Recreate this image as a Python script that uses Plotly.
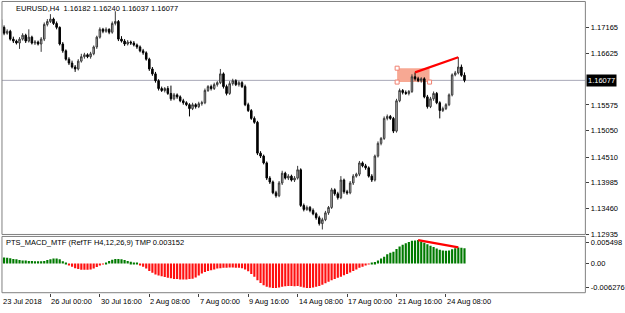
import plotly.graph_objects as go

# ---------------- data ----------------
title_text = "EURUSD,H4  1.16182 1.16240 1.16037 1.16077"
ind_text = "PTS_MACD_MTF (RefTF H4,12,26,9) TMP 0.003152"

opens = [
    1.1732, 1.1716, 1.1704, 1.1708, 1.1692, 1.1688, 1.1684, 1.1692, 1.1700, 1.1688,
    1.1696, 1.1684, 1.1686, 1.1682, 1.1692, 1.1722, 1.1728, 1.1733, 1.1724, 1.1716,
    1.1682, 1.1668, 1.1651, 1.1643, 1.1635, 1.1631, 1.1647, 1.1656, 1.1660, 1.1656,
    1.1662, 1.1676, 1.1696, 1.1712, 1.1708, 1.1712, 1.1706, 1.1724, 1.1728, 1.1692,
    1.1688, 1.1682, 1.1686, 1.1684, 1.1680, 1.1676, 1.1668, 1.1664, 1.1651, 1.1631,
    1.1621, 1.1607, 1.1591, 1.1587, 1.1591, 1.1581, 1.1570, 1.1578, 1.1574, 1.1566,
    1.1562, 1.1558, 1.1550, 1.1558, 1.1554, 1.1560, 1.1562, 1.1587, 1.1595, 1.1591,
    1.1599, 1.1603, 1.1621, 1.1595, 1.1581, 1.1601, 1.1607, 1.1599, 1.1603, 1.1595,
    1.1558, 1.1546, 1.1530, 1.1522, 1.1459, 1.1453, 1.1439, 1.1408, 1.1400, 1.1378,
    1.1372, 1.1398, 1.1418, 1.1408, 1.1412, 1.1404, 1.1408, 1.1425, 1.1352, 1.1344,
    1.1348, 1.1342, 1.1335, 1.1327, 1.1315, 1.1323, 1.1337, 1.1348, 1.1384, 1.1376,
    1.1368, 1.1404, 1.1380, 1.1378, 1.1398, 1.1412, 1.1416, 1.1439, 1.1433, 1.1429,
    1.1412, 1.1404, 1.1453, 1.1479, 1.1489, 1.1530, 1.1534, 1.1530, 1.1504, 1.1566,
    1.1587, 1.1583, 1.1581, 1.1585, 1.1615, 1.1611, 1.1607, 1.1611, 1.1574, 1.1554,
    1.1570, 1.1581, 1.1562, 1.1546, 1.1550, 1.1558, 1.1578, 1.1619, 1.1623, 1.1635,
    1.16182,
]
highs = [
    1.1743, 1.1720, 1.1712, 1.1711, 1.1697, 1.1691, 1.1696, 1.1704, 1.1703, 1.1712,
    1.1699, 1.1690, 1.1689, 1.1696, 1.1726, 1.1733, 1.1743, 1.1736, 1.1728, 1.1718,
    1.1686, 1.1671, 1.1655, 1.1648, 1.1639, 1.1651, 1.1662, 1.1664, 1.1663, 1.1666,
    1.1679, 1.1699, 1.1716, 1.1715, 1.1716, 1.1714, 1.1728, 1.1749, 1.1731, 1.1698,
    1.1692, 1.1690, 1.1689, 1.1688, 1.1683, 1.1679, 1.1672, 1.1667, 1.1654, 1.1635,
    1.1625, 1.1610, 1.1595, 1.1594, 1.1596, 1.1597, 1.1582, 1.1581, 1.1577, 1.1570,
    1.1565, 1.1561, 1.1562, 1.1561, 1.1564, 1.1566, 1.1591, 1.1598, 1.1599, 1.1603,
    1.1606, 1.1631, 1.1624, 1.1599, 1.1606, 1.1611, 1.1610, 1.1607, 1.1606, 1.1599,
    1.1562, 1.1549, 1.1534, 1.1525, 1.1463, 1.1456, 1.1442, 1.1412, 1.1403, 1.1382,
    1.1402, 1.1423, 1.1421, 1.1416, 1.1415, 1.1412, 1.1433, 1.1428, 1.1356, 1.1352,
    1.1351, 1.1346, 1.1338, 1.1331, 1.1327, 1.1341, 1.1351, 1.1388, 1.1387, 1.1380,
    1.1412, 1.1407, 1.1384, 1.1402, 1.1416, 1.1419, 1.1443, 1.1442, 1.1437, 1.1432,
    1.1416, 1.1456, 1.1483, 1.1492, 1.1534, 1.1538, 1.1537, 1.1533, 1.1570, 1.1591,
    1.1590, 1.1587, 1.1588, 1.1620, 1.1624, 1.1615, 1.1614, 1.1614, 1.1578, 1.1574,
    1.1585, 1.1584, 1.1565, 1.1554, 1.1561, 1.1581, 1.1622, 1.1627, 1.1655, 1.1640,
    1.16240,
]
lows = [
    1.1709, 1.1700, 1.1701, 1.1689, 1.1684, 1.1681, 1.1672, 1.1689, 1.1684, 1.1685,
    1.1681, 1.1680, 1.1679, 1.1666, 1.1688, 1.1718, 1.1725, 1.1721, 1.1712, 1.1679,
    1.1664, 1.1648, 1.1639, 1.1632, 1.1625, 1.1628, 1.1644, 1.1652, 1.1653, 1.1652,
    1.1659, 1.1672, 1.1693, 1.1704, 1.1705, 1.1702, 1.1703, 1.1720, 1.1688, 1.1685,
    1.1678, 1.1679, 1.1680, 1.1677, 1.1672, 1.1665, 1.1660, 1.1648, 1.1627, 1.1617,
    1.1603, 1.1587, 1.1584, 1.1583, 1.1578, 1.1566, 1.1567, 1.1570, 1.1563, 1.1558,
    1.1555, 1.1534, 1.1547, 1.1550, 1.1551, 1.1556, 1.1559, 1.1584, 1.1587, 1.1588,
    1.1595, 1.1600, 1.1591, 1.1577, 1.1578, 1.1597, 1.1596, 1.1595, 1.1592, 1.1555,
    1.1543, 1.1527, 1.1519, 1.1455, 1.1449, 1.1436, 1.1404, 1.1396, 1.1375, 1.1368,
    1.1369, 1.1394, 1.1405, 1.1404, 1.1401, 1.1400, 1.1405, 1.1349, 1.1340, 1.1341,
    1.1338, 1.1332, 1.1323, 1.1311, 1.1303, 1.1320, 1.1333, 1.1345, 1.1372, 1.1364,
    1.1365, 1.1376, 1.1374, 1.1375, 1.1394, 1.1409, 1.1412, 1.1430, 1.1425, 1.1409,
    1.1400, 1.1401, 1.1450, 1.1475, 1.1486, 1.1526, 1.1527, 1.1500, 1.1501, 1.1563,
    1.1579, 1.1578, 1.1577, 1.1582, 1.1607, 1.1604, 1.1603, 1.1571, 1.1550, 1.1551,
    1.1566, 1.1559, 1.1530, 1.1543, 1.1547, 1.1555, 1.1575, 1.1616, 1.1620, 1.1615,
    1.16037,
]
closes = [
    1.1716, 1.1704, 1.1708, 1.1692, 1.1688, 1.1684, 1.1692, 1.1700, 1.1688, 1.1696,
    1.1684, 1.1686, 1.1682, 1.1692, 1.1722, 1.1728, 1.1733, 1.1724, 1.1716, 1.1682,
    1.1668, 1.1651, 1.1643, 1.1635, 1.1631, 1.1647, 1.1656, 1.1660, 1.1656, 1.1662,
    1.1676, 1.1696, 1.1712, 1.1708, 1.1712, 1.1706, 1.1724, 1.1728, 1.1692, 1.1688,
    1.1682, 1.1686, 1.1684, 1.1680, 1.1676, 1.1668, 1.1664, 1.1651, 1.1631, 1.1621,
    1.1607, 1.1591, 1.1587, 1.1591, 1.1581, 1.1570, 1.1578, 1.1574, 1.1566, 1.1562,
    1.1558, 1.1550, 1.1558, 1.1554, 1.1560, 1.1562, 1.1587, 1.1595, 1.1591, 1.1599,
    1.1603, 1.1621, 1.1595, 1.1581, 1.1601, 1.1607, 1.1599, 1.1603, 1.1595, 1.1558,
    1.1546, 1.1530, 1.1522, 1.1459, 1.1453, 1.1439, 1.1408, 1.1400, 1.1378, 1.1372,
    1.1398, 1.1418, 1.1408, 1.1412, 1.1404, 1.1408, 1.1425, 1.1352, 1.1344, 1.1348,
    1.1342, 1.1335, 1.1327, 1.1315, 1.1323, 1.1337, 1.1348, 1.1384, 1.1376, 1.1368,
    1.1404, 1.1380, 1.1378, 1.1398, 1.1412, 1.1416, 1.1439, 1.1433, 1.1429, 1.1412,
    1.1404, 1.1453, 1.1479, 1.1489, 1.1530, 1.1534, 1.1530, 1.1504, 1.1566, 1.1587,
    1.1583, 1.1581, 1.1585, 1.1615, 1.1611, 1.1607, 1.1611, 1.1574, 1.1554, 1.1570,
    1.1581, 1.1562, 1.1546, 1.1550, 1.1558, 1.1578, 1.1619, 1.1623, 1.1635, 1.1618,
    1.16077,
]
macd = [
    0.0016, 0.0016, 0.0015, 0.0014, 0.0012, 0.0011, 0.0009, 0.0008, 0.0008, 0.0007,
    0.0007, 0.0006, 0.0006, 0.0006, 0.0007, 0.0009, 0.0011, 0.0013, 0.0013, 0.0011,
    0.0006, 0.0001, -0.0004, -0.0008, -0.0012, -0.0014, -0.0016, -0.0016, -0.0016, -0.0015,
    -0.0013, -0.0009, -0.0005, -0.0001, 0.0003, 0.0007, 0.0010, 0.0012, 0.0012, 0.0011,
    0.0009, 0.0007, 0.0005, 0.0003, 0.0001, -0.0003, -0.0008, -0.0013, -0.0019, -0.0024,
    -0.0028, -0.0031, -0.0033, -0.0035, -0.0037, -0.0038, -0.0040, -0.0040, -0.0041, -0.0041,
    -0.0041, -0.0040, -0.0039, -0.0036, -0.0031, -0.0026, -0.0022, -0.0019, -0.0017, -0.0015,
    -0.0013, -0.0012, -0.0011, -0.0011, -0.0010, -0.0010, -0.0011, -0.0011, -0.0012, -0.0015,
    -0.0020, -0.0027, -0.0034, -0.0043, -0.0050, -0.0056, -0.0060, -0.0062, -0.0063, -0.0063,
    -0.0062, -0.0060, -0.0059, -0.0058, -0.0058, -0.0059, -0.0058, -0.0060, -0.0062, -0.0063,
    -0.0063, -0.0062, -0.0060, -0.0058, -0.0055, -0.0051, -0.0047, -0.0043, -0.0040, -0.0037,
    -0.0034, -0.0030, -0.0027, -0.0023, -0.0019, -0.0015, -0.0011, -0.0008, -0.0005, -0.0002,
    0.0002, 0.0004, 0.0008, 0.0013, 0.0018, 0.0024, 0.0028, 0.0031, 0.0038, 0.0044,
    0.0049, 0.0053, 0.0056, 0.0059, 0.0060, 0.0061, 0.0057, 0.0054, 0.0050, 0.0046,
    0.0043, 0.0039, 0.0036, 0.0034, 0.0033, 0.0034, 0.0037, 0.0040, 0.0042, 0.0041,
    0.0040,
]
bars = list(range(len(closes)))

price_ticks = [1.17165, 1.16625, 1.15575, 1.15050, 1.14510, 1.13985, 1.13460, 1.12935]
price_tick_text = ["1.17165", "1.16625", "1.15575", "1.15050", "1.14510", "1.13985", "1.13460", "1.12935"]
current_price = 1.16077
macd_ticks = [0.005498, 0.0, -0.006276]
macd_tick_text = ["0.005498", "0.00", "-0.006276"]
time_label_bars = [0, 16, 32, 48, 64, 80, 96, 112, 128, 144]
time_labels = ["23 Jul 2018", "26 Jul 00:00", "30 Jul 16:00", "2 Aug 08:00", "7 Aug 00:00",
               "9 Aug 16:00", "14 Aug 08:00", "17 Aug 00:00", "21 Aug 16:00", "24 Aug 08:00"]

# drawn objects (bar index / price anchored)
trend_bars = [134, 148]
macd_line_bars = [135, 148]
zone_bars = [128.2, 138.7]
zone_prices = [1.16042, 1.16326]

# ---------------- layout helpers ----------------
W, H = 625, 313
def fx(p):
    return p / W
def fy(p):
    return 1 - p / H

FONT = "Liberation Sans"
FS = 7.5
X_DOM = [fx(2), fx(592)]
X_RANGE = [0.32, 189.12]

fig = go.Figure()

# zone rectangle
fig.add_shape(type="rect", xref="x", yref="y", x0=zone_bars[0], x1=zone_bars[1],
              y0=zone_prices[0], y1=zone_prices[1], fillcolor="#F7A893",
              line=dict(width=0), layer="below")
# current price line
fig.add_shape(type="line", xref="paper", yref="y", x0=X_DOM[0], x1=X_DOM[1],
              y0=current_price, y1=current_price, line=dict(color="#A8A8B8", width=1), layer="below")

fig.add_trace(go.Candlestick(
    x=bars, open=opens, high=highs, low=lows, close=closes,
    xaxis="x", yaxis="y",
    increasing=dict(line=dict(color="#3a3a3a", width=1), fillcolor="#c4c4c4"),
    decreasing=dict(line=dict(color="#000000", width=1), fillcolor="#000000"),
    whiskerwidth=0, hoverinfo="skip", showlegend=False,
))

# zone corner handles
fig.add_trace(go.Scatter(
    x=[zone_bars[0], zone_bars[0], zone_bars[1]],
    y=[zone_prices[1], zone_prices[0], zone_prices[0]],
    mode="markers", xaxis="x", yaxis="y",
    marker=dict(symbol="square", size=4, color="white", line=dict(color="#F08070", width=1)),
    hoverinfo="skip", showlegend=False,
))

# trend line on price
fig.add_trace(go.Scatter(
    x=trend_bars, y=[highs[trend_bars[0]], highs[trend_bars[1]]],
    mode="lines", line=dict(color="#FF0000", width=2.2), xaxis="x", yaxis="y",
    hoverinfo="skip", showlegend=False,
))

# MACD histogram
colors = ["#007A00" if v >= 0 else "#FF1010" for v in macd]
fig.add_trace(go.Bar(
    x=bars, y=macd, marker=dict(color=colors, line=dict(width=0)),
    xaxis="x2", yaxis="y2", hoverinfo="skip", showlegend=False,
))
fig.add_trace(go.Scatter(
    x=macd_line_bars, y=[macd[macd_line_bars[0]], macd[macd_line_bars[1]]],
    mode="lines", line=dict(color="#FF0000", width=2.2), xaxis="x2", yaxis="y2",
    hoverinfo="skip", showlegend=False,
))

# panel borders
for top, bot in [(1.5, 237.5), (239.5, 296.5)]:
    fig.add_shape(type="rect", xref="paper", yref="paper", x0=X_DOM[0], x1=X_DOM[1],
                  y0=fy(bot), y1=fy(top), line=dict(color="#808080", width=1))

annotations = [
    dict(text=title_text, xref="paper", yref="paper", x=fx(14), y=fy(9), xanchor="left",
         yanchor="middle", showarrow=False, font=dict(family=FONT, size=FS, color="black")),
    dict(text=ind_text, xref="paper", yref="paper", x=fx(4), y=fy(246), xanchor="left",
         yanchor="middle", showarrow=False, font=dict(family=FONT, size=FS, color="black")),
    dict(text=f"{current_price:.5f}", xref="paper", yref="y", x=fx(593), y=current_price,
         xanchor="left", yanchor="middle", showarrow=False, bgcolor="black",
         font=dict(family=FONT, size=FS, color="white"), borderpad=1),
]
for b, t in zip(time_label_bars, time_labels):
    bx = max(b, X_RANGE[0] + 0.05)
    annotations.append(dict(text=t, xref="x2", yref="paper", x=bx, y=fy(305), xanchor="left",
                            yanchor="middle", showarrow=False, xshift=-1,
                            font=dict(family=FONT, size=FS, color="black")))

axfont = dict(family=FONT, size=FS, color="black")
fig.update_layout(
    width=W, height=H, margin=dict(l=0, r=0, t=0, b=0),
    paper_bgcolor="white", plot_bgcolor="white", showlegend=False, bargap=0.3,
    xaxis=dict(domain=X_DOM, range=X_RANGE, anchor="y", showticklabels=False, showgrid=False,
               zeroline=False, rangeslider=dict(visible=False), ticks=""),
    yaxis=dict(domain=[fy(237.5), fy(1.5)], range=[1.12928, 1.17689], anchor="x", side="right",
               tickvals=price_ticks, ticktext=price_tick_text, ticks="outside", ticklen=3,
               tickcolor="#404040", showgrid=False, zeroline=False, showline=False,
               tickfont=axfont),
    xaxis2=dict(domain=X_DOM, range=X_RANGE, anchor="y2", tickvals=time_label_bars,
                showticklabels=False, ticks="outside", ticklen=3, tickcolor="#404040",
                showgrid=False, zeroline=False),
    yaxis2=dict(domain=[fy(296.5), fy(239.5)], range=[-0.00755, 0.00704], anchor="x2",
                side="right", tickvals=macd_ticks, ticktext=macd_tick_text, ticks="outside",
                ticklen=3, tickcolor="#404040", showgrid=False, zeroline=False,
                tickfont=axfont),
    annotations=annotations,
)

fig.write_html("out.html")
